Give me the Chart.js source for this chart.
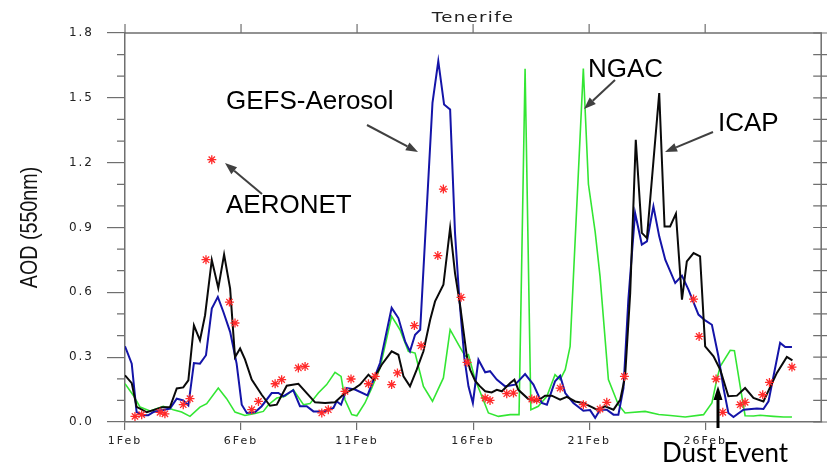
<!DOCTYPE html>
<html><head><meta charset="utf-8">
<script src="https://cdn.jsdelivr.net/npm/chart.js@4.4.1/dist/chart.umd.min.js"></script>
<style>html,body{margin:0;padding:0;background:#fff;}canvas{display:block;}</style>
</head><body>
<canvas id="c" width="827" height="463"></canvas>
<script>
const xTickDays = [0,5,10,15,20,25];
const xTickLabels = ['1Feb','6Feb','11Feb','16Feb','21Feb','26Feb'];
const yTicks = [0,0.3,0.6,0.9,1.2,1.5,1.8];
const yMinorTicks = [0.1,0.2,0.4,0.5,0.7,0.8,1.0,1.1,1.3,1.4,1.6,1.7];

const icapDays = [0,0.29,0.5,0.94,1.22,1.6,1.94,2.23,2.51,2.73,2.97,3.23,3.45,3.74,4.02,4.27,4.53,4.74,4.96,5.17,5.46,5.89,6.25,6.54,6.97,7.47,8.19,8.62,9.05,9.48,9.91,10.13,10.49,10.7,11.06,11.49,11.78,12.0,12.28,12.57,12.86,13.15,13.36,13.72,14.01,14.22,14.44,14.73,14.87,15.09,15.3,15.52,15.8,16.02,16.24,16.6,16.78,16.95,17.38,17.74,18.1,18.39,18.75,19.04,19.4,19.75,20.12,20.33,20.69,21.05,21.34,21.55,21.77,22.01,22.27,22.49,22.77,23.02,23.25,23.49,23.74,24.0,24.21,24.5,24.78,25.0,25.36,25.65,26.0,26.37,26.72,27.08,27.51,28.09,28.52,28.76];
const icapAOD = [0.216,0.18,0.07,0.045,0.055,0.068,0.069,0.155,0.16,0.193,0.447,0.378,0.494,0.75,0.62,0.775,0.617,0.30,0.34,0.29,0.196,0.126,0.075,0.08,0.168,0.177,0.091,0.088,0.091,0.134,0.157,0.173,0.219,0.196,0.265,0.327,0.311,0.211,0.165,0.242,0.327,0.473,0.558,0.635,0.898,0.689,0.54,0.304,0.242,0.19,0.165,0.142,0.137,0.149,0.142,0.18,0.196,0.149,0.106,0.095,0.122,0.122,0.103,0.116,0.095,0.088,0.069,0.057,0.072,0.057,0.103,0.211,0.597,1.306,0.875,0.851,1.206,1.522,0.905,0.905,0.964,0.566,0.743,0.782,0.766,0.35,0.304,0.242,0.119,0.122,0.157,0.111,0.095,0.227,0.301,0.285];

const gefsDays = [0,0.29,0.5,0.79,1.0,1.22,1.94,2.23,2.51,2.73,2.97,3.23,3.49,3.74,4.0,4.24,4.53,4.81,5.03,5.25,5.6,5.89,6.32,6.61,6.82,7.25,7.54,7.83,8.12,8.62,8.98,9.12,9.31,9.56,9.91,10.45,10.99,11.49,11.78,12.07,12.28,12.5,12.72,13.25,13.5,13.75,14.01,14.22,14.4,14.62,14.8,14.99,15.23,15.52,15.73,16.02,16.38,16.81,17.24,17.6,17.96,18.18,18.53,18.75,18.97,19.32,19.75,20.04,20.26,20.47,20.76,21.05,21.26,21.48,21.69,21.98,22.27,22.49,22.77,23.02,23.28,23.71,24.0,24.28,24.71,25.0,25.29,25.57,25.79,26.0,26.22,26.65,27.23,27.51,27.73,28.23,28.45,28.74];
const gefsAOD = [0.35,0.27,0.046,0.031,0.031,0.046,0.062,0.108,0.10,0.077,0.273,0.27,0.309,0.525,0.579,0.509,0.417,0.27,0.08,0.042,0.045,0.073,0.134,0.134,0.119,0.147,0.073,0.073,0.049,0.049,0.065,0.096,0.08,0.157,0.15,0.123,0.273,0.528,0.481,0.373,0.327,0.404,0.427,1.477,1.67,1.469,1.446,0.875,0.58,0.30,0.165,0.088,0.288,0.23,0.235,0.196,0.165,0.173,0.222,0.173,0.088,0.08,0.188,0.214,0.134,0.088,0.052,0.055,0.019,0.057,0.057,0.034,0.034,0.157,0.566,0.967,0.821,0.836,0.998,0.859,0.751,0.643,0.677,0.613,0.497,0.47,0.45,0.304,0.157,0.042,0.023,0.057,0.062,0.06,0.096,0.366,0.347,0.347];

const ngacDays = [0,0.36,0.65,1.08,1.65,2.08,2.44,2.8,3.23,3.52,4.02,4.38,4.74,5.17,5.6,5.96,6.18,6.54,6.9,7.25,7.69,7.97,8.33,8.69,9.05,9.31,9.48,9.77,9.99,10.34,10.63,10.99,11.49,11.85,12.21,12.5,12.86,13.25,13.72,14.01,14.37,14.66,14.8,15.09,15.3,15.66,16.09,16.6,16.98,17.24,17.49,17.81,18.18,18.53,18.75,18.97,19.18,19.75,19.97,20.26,20.47,20.83,21.26,21.55,22.41,23.0,23.5,24.14,24.93,25.29,25.5,25.65,26.08,26.26,26.51,26.72,27.08,27.37,27.94,28.38,28.74];
const ngacAOD = [0.177,0.123,0.069,0.051,0.073,0.057,0.046,0.026,0.069,0.085,0.157,0.108,0.046,0.03,0.039,0.049,0.08,0.111,0.119,0.15,0.08,0.085,0.134,0.173,0.23,0.211,0.103,0.034,0.029,0.088,0.157,0.25,0.489,0.427,0.327,0.319,0.165,0.096,0.204,0.427,0.358,0.304,0.312,0.196,0.14,0.042,0.026,0.034,0.034,1.634,0.057,0.073,0.119,0.219,0.196,0.242,0.35,1.635,1.10,0.88,0.674,0.196,0.08,0.042,0.049,0.035,0.03,0.023,0.034,0.088,0.196,0.258,0.332,0.33,0.165,0.029,0.028,0.031,0.026,0.023,0.023];

const aeronetDays = [0.43,0.72,1.51,1.72,2.51,2.8,3.49,3.74,4.5,4.74,5.46,5.75,6.47,6.75,7.47,7.76,8.48,8.76,9.48,9.74,10.49,10.78,11.49,11.74,12.47,12.76,13.48,13.72,14.48,14.74,15.52,15.73,16.45,16.74,17.53,17.74,18.75,19.75,20.47,20.76,21.52,24.5,24.74,25.47,25.76,26.51,26.72,27.48,27.77,28.74];
const aeronetAOD = [0.026,0.034,0.045,0.038,0.08,0.108,0.751,1.214,0.555,0.458,0.057,0.095,0.177,0.196,0.25,0.257,0.042,0.057,0.142,0.199,0.177,0.211,0.173,0.227,0.446,0.353,0.77,1.078,0.577,0.276,0.111,0.10,0.131,0.134,0.106,0.103,0.157,0.08,0.06,0.091,0.211,0.569,0.396,0.199,0.045,0.08,0.091,0.126,0.183,0.254];

const title = 'Tenerife';
const yTitle = 'AOD (550nm)';

function pts(xs, ys){ return xs.map((d,i)=>({x:d, y:ys[i]})); }

const axisColor = '#6f6f6f';
const labelColor = '#222';

function arrow(ctx, x1, y1, x2, y2, lw, hl, hw, color){
  const ang = Math.atan2(y2-y1, x2-x1);
  const bx = x2 - hl*Math.cos(ang), by = y2 - hl*Math.sin(ang);
  ctx.save();
  ctx.strokeStyle = color; ctx.fillStyle = color; ctx.lineWidth = lw; ctx.lineCap='butt';
  ctx.beginPath(); ctx.moveTo(x1,y1); ctx.lineTo(bx,by); ctx.stroke();
  ctx.beginPath();
  ctx.moveTo(x2,y2);
  ctx.lineTo(bx + hw/2*Math.sin(ang), by - hw/2*Math.cos(ang));
  ctx.lineTo(bx - hw/2*Math.sin(ang), by + hw/2*Math.cos(ang));
  ctx.closePath(); ctx.fill();
  ctx.restore();
}

const decor = {
  id: 'decor',
  beforeDraw(chart){ chart.ctx.letterSpacing = '2px'; },
  afterDraw(chart){
    const {ctx, chartArea:a, scales:{x, y}} = chart;
    ctx.save();
    ctx.letterSpacing = '0px';
    ctx.strokeStyle = axisColor; ctx.lineWidth = 1.5;
    ctx.beginPath();
    ctx.moveTo(a.left, a.top); ctx.lineTo(a.right, a.top); ctx.lineTo(a.right, a.bottom);
    ctx.stroke();
    ctx.lineWidth = 1.2;
    ctx.beginPath();
    xTickDays.forEach(d => { const px = x.getPixelForValue(d); ctx.moveTo(px, a.top); ctx.lineTo(px, a.top-9); });
    yMinorTicks.forEach(v => { const py = y.getPixelForValue(v); ctx.moveTo(a.left-8, py); ctx.lineTo(a.left, py); });
    yTicks.concat(yMinorTicks).forEach(v => { const py = y.getPixelForValue(v); ctx.moveTo(a.right-8, py); ctx.lineTo(a.right+6, py); });
    ctx.stroke();

    // title
    ctx.save();
    ctx.fillStyle = labelColor;
    ctx.font = '14px "DejaVu Sans"';
    ctx.letterSpacing = '1px';
    ctx.textAlign = 'center'; ctx.textBaseline = 'alphabetic';
    ctx.translate((a.left+a.right)/2, 22);
    ctx.scale(1.3, 1);
    ctx.fillText(title, 0, 0);
    ctx.restore();

    // y title
    ctx.save();
    ctx.fillStyle = '#111';
    ctx.font = '24px "Liberation Sans"';
    ctx.textAlign = 'center'; ctx.textBaseline = 'middle';
    ctx.translate(30, (a.top+a.bottom)/2 + 0);
    ctx.rotate(-Math.PI/2);
    ctx.scale(0.82, 1);
    ctx.fillText(yTitle, 0, 0);
    ctx.restore();

    // annotations
    ctx.fillStyle = '#000';
    ctx.font = '26px "Liberation Sans"';
    ctx.textAlign = 'left'; ctx.textBaseline = 'alphabetic';
    ctx.fillText('GEFS-Aerosol', 226, 109);
    ctx.fillText('AERONET', 226, 213);
    ctx.fillText('NGAC', 588, 77);
    ctx.fillText('ICAP', 718, 131);
    ctx.font = '26px Lato';
    ctx.fillText('Dust Event', 662, 462);

    const ac = '#404040';
    arrow(ctx, 367, 125, 418, 152, 2, 12, 9, ac);
    arrow(ctx, 262, 194, 225, 163, 2, 12, 9, ac);
    arrow(ctx, 615, 80, 584, 109, 2, 12, 9, ac);
    arrow(ctx, 713, 132, 665, 152, 2, 12, 9, ac);
    arrow(ctx, 718, 428, 718, 386, 3, 14, 9, '#000');
    ctx.restore();
  }
};

new Chart(document.getElementById('c'), {
  type: 'line',
  data: {
    datasets: [
      { label: 'AERONET', data: pts(aeronetDays, aeronetAOD), showLine: false, pointStyle: 'star', pointRadius: 4.5, borderColor: '#ff2a2a', backgroundColor: '#ff2a2a', borderWidth: 1.3, order: 0 },
      { label: 'ICAP', data: pts(icapDays, icapAOD), borderColor: '#0a0a0a', borderWidth: 2, pointRadius: 0, tension: 0, order: 1 },
      { label: 'GEFS-Aerosol', data: pts(gefsDays, gefsAOD), borderColor: '#1414a8', borderWidth: 2, pointRadius: 0, tension: 0, order: 2 },
      { label: 'NGAC', data: pts(ngacDays, ngacAOD), borderColor: '#33e633', borderWidth: 1.6, pointRadius: 0, tension: 0, order: 3 }
    ]
  },
  options: {
    responsive: false,
    devicePixelRatio: 1,
    animation: false,
    layout: { padding: { top: 33, right: 5, left: 0, bottom: 0 } },
    plugins: { legend: { display: false }, tooltip: { enabled: false }, title: { display: false } },
    scales: {
      x: {
        type: 'linear', position: 'bottom', min: 0, max: 30,
        afterBuildTicks: s => { s.ticks = xTickDays.map(v => ({value: v})); },
        afterFit: s => { s.height = 41; },
        grid: { drawOnChartArea: false, drawTicks: true, tickLength: 8, color: axisColor, lineWidth: 1.2 },
        border: { color: axisColor, width: 1.5 },
        ticks: {
          autoSkip: false, maxRotation: 0, padding: 5, color: labelColor,
          font: { family: 'DejaVu Sans', size: 11 },
          callback: (v) => { const i = xTickDays.indexOf(v); return i >= 0 ? xTickLabels[i] : ''; }
        }
      },
      y: {
        type: 'linear', position: 'left', min: 0, max: 1.8,
        afterBuildTicks: s => { s.ticks = yTicks.map(v => ({value: v})); },
        afterFit: s => { s.width = 125; },
        grid: { drawOnChartArea: false, drawTicks: true, tickLength: 18, color: axisColor, lineWidth: 1.2 },
        border: { color: axisColor, width: 1.5 },
        ticks: {
          padding: 13, color: labelColor,
          font: { family: 'DejaVu Sans', size: 12 },
          callback: v => Number(v).toFixed(1)
        }
      }
    }
  },
  plugins: [decor]
});
</script>
</body></html>
